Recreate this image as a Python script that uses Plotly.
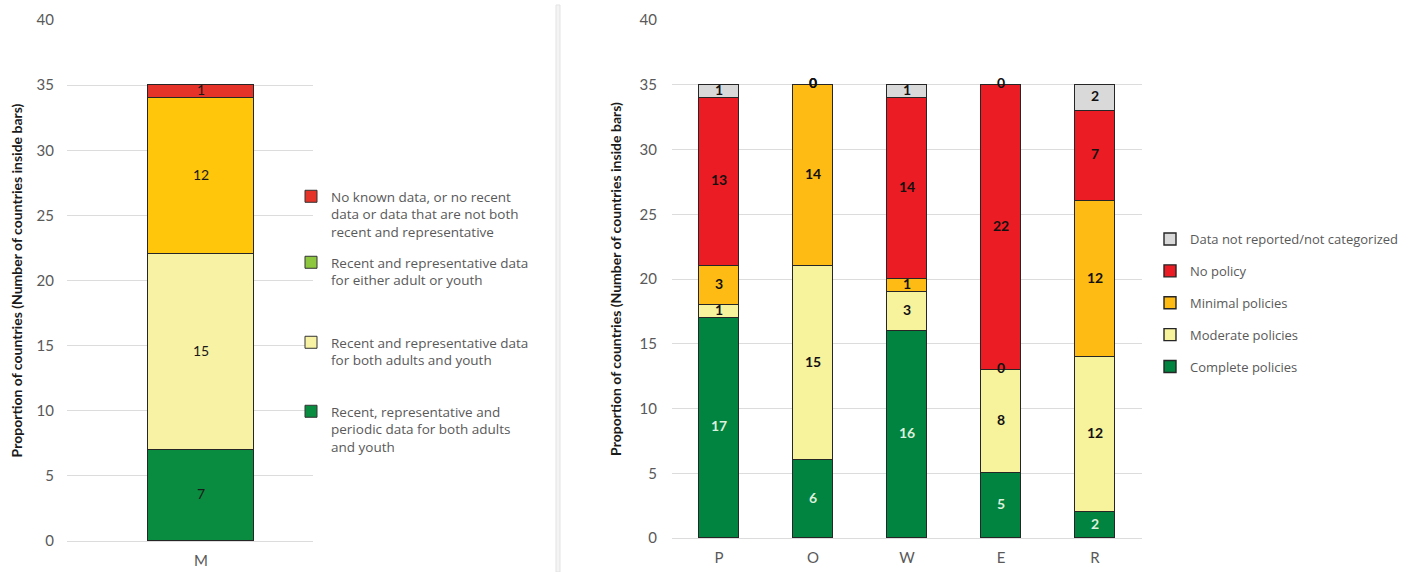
import plotly.graph_objects as go
import numpy as np

# ---- left panel: data availability ----
left_cat = ["M"]
left_names = [
    "Recent, representative and<br>periodic data for both adults<br>and youth",
    "Recent and representative data<br>for both adults and youth",
    "Recent and representative data<br>for either adult or youth",
    "No known data, or no recent<br>data or data that are not both<br>recent and representative",
]
left_values = [[7], [15], [12], [1]]
left_colors = ["#0A8C40", "#F8F2A4", "#FFC60C", "#E5332A"]
left_legend_colors = ["#0A8C40", "#F8F2A4", "#8DC63F", "#E5332A"]

# ---- right panel: policy status ----
right_cat = ["P", "O", "W", "E", "R"]
right_names = ["Complete policies", "Moderate policies", "Minimal policies",
               "No policy", "Data not reported/not categorized"]
complete = [17, 6, 16, 5, 2]
moderate = [1, 15, 3, 8, 12]
minimal = [3, 14, 1, 0, 12]
no_policy = [13, 0, 14, 22, 7]
not_reported = [1, 0, 1, 0, 2]
right_values = [complete, moderate, minimal, no_policy, not_reported]
right_colors = ["#00843F", "#F7F29C", "#FDBB14", "#EC1C24", "#D9D9D9"]
right_text_colors = ["#DDEFDD", "#111111", "#111111", "#111111", "#111111"]

y_ticks = [0, 5, 10, 15, 20, 25, 30, 35, 40]
y_title = "Proportion of countries (Number of countries inside bars)"

W, H = 1413, 572
FONT = "Lato"
LEG_FONT = "Open Sans"
GREY = "#595959"
OUTLINE = dict(color="#262626", width=1.4)

fig = go.Figure()

def px_x(p):
    return p / W

def px_y(p):
    return 1 - p / H

# left stacked bar
legend_ids = ["legend", "legend2", "legend3", "legend4"]
for i, (name, vals, col) in enumerate(zip(left_names, left_values, left_colors)):
    fig.add_trace(go.Bar(x=left_cat, y=vals, marker=dict(color=col, line=OUTLINE),
                         width=0.43, showlegend=False, hoverinfo="skip",
                         xaxis="x", yaxis="y"))
    # legend-only entry for the swatch
    fig.add_trace(go.Bar(x=left_cat, y=[None], name=name,
                         marker=dict(color=left_legend_colors[i], line=dict(color="#333", width=1)),
                         legend=legend_ids[3 - i], xaxis="x", yaxis="y"))

# left labels at segment midpoints
cum = np.zeros(len(left_cat))
for vals in left_values:
    v = np.array(vals, dtype=float)
    mid = cum + v / 2
    fig.add_trace(go.Scatter(x=left_cat, y=mid, mode="text", text=[str(int(a)) for a in v],
                             textfont=dict(family=FONT, size=14, color="#1a1a1a"),
                             showlegend=False, hoverinfo="skip", xaxis="x", yaxis="y"))
    cum = cum + v

# right stacked bars
n_right = len(right_names)
for i, (name, vals, col) in enumerate(zip(right_names, right_values, right_colors)):
    fig.add_trace(go.Bar(x=right_cat, y=vals, name=name, marker=dict(color=col, line=OUTLINE),
                         width=0.415, legend="legend5", legendgroup=name,
                         legendrank=n_right - i,
                         hoverinfo="skip", xaxis="x2", yaxis="y2"))

cum = np.zeros(len(right_cat))
for vals, tcol in zip(right_values, right_text_colors):
    v = np.array(vals, dtype=float)
    mid = cum + v / 2
    fig.add_trace(go.Scatter(x=right_cat, y=mid, mode="text", text=[str(int(a)) for a in v],
                             textfont=dict(family=FONT, size=14, color=tcol, weight="bold"),
                             showlegend=False, hoverinfo="skip", xaxis="x2", yaxis="y2"))
    cum = cum + v

axis_common = dict(showgrid=True, gridcolor="#DCDCDC", gridwidth=1, zeroline=False,
                   tickfont=dict(family=FONT, size=15, color=GREY), showline=False,
                   automargin=False)
title_font = dict(family=FONT, size=14, color="#1a1a1a", weight="bold")

fig.update_layout(
    width=W, height=H, barmode="stack", bargap=0,
    margin=dict(l=0, r=0, t=0, b=0, autoexpand=False),
    paper_bgcolor="white", plot_bgcolor="white",
    font=dict(family=FONT, size=13, color=GREY),
    xaxis=dict(domain=[px_x(67), px_x(313)], range=[-0.545, 0.455], showgrid=False,
               zeroline=False, showline=True, linecolor="#DCDCDC", automargin=False,
               tickfont=dict(family=FONT, size=15, color=GREY), ticks="", ticklabelstandoff=6),
    yaxis=dict(domain=[px_y(541), px_y(20)], range=[0, 40], tickvals=y_ticks,
               ticklabelstandoff=12, anchor="x",
               title=dict(text=y_title, font=title_font, standoff=10),
               **axis_common),
    xaxis2=dict(domain=[px_x(672), px_x(1142)], range=[-0.5, 4.5], showgrid=False,
                zeroline=False, showline=True, linecolor="#DCDCDC", anchor="y2", automargin=False,
                tickfont=dict(family=FONT, size=15, color=GREY), ticks="", ticklabelstandoff=6),
    yaxis2=dict(domain=[px_y(538), px_y(20)], range=[0, 40], tickvals=y_ticks,
                ticklabelstandoff=14, anchor="x2",
                title=dict(text=y_title, font=title_font, standoff=14),
                **axis_common),
)

legend_style = dict(bgcolor="rgba(0,0,0,0)", xanchor="left", yanchor="top", valign="top",
                    itemclick=False, itemdoubleclick=False)
left_legend_tops = [185, 251, 331, 400]
for lid, top in zip(legend_ids, left_legend_tops):
    fig.update_layout({lid: dict(x=px_x(291), y=px_y(top - 4),
                                 font=dict(family=LEG_FONT, size=13.5, color=GREY), **legend_style)})
fig.update_layout(legend5=dict(x=px_x(1150), y=px_y(224), traceorder="grouped",
                               tracegroupgap=12,
                               font=dict(family=LEG_FONT, size=13, color=GREY), **legend_style))

# panel divider
fig.add_shape(type="rect", xref="paper", yref="paper", x0=px_x(556), x1=px_x(560),
              y0=0, y1=px_y(5), line=dict(color="#E3E3E3", width=1), fillcolor="#F4F4F4")

fig.write_html("out.html")
